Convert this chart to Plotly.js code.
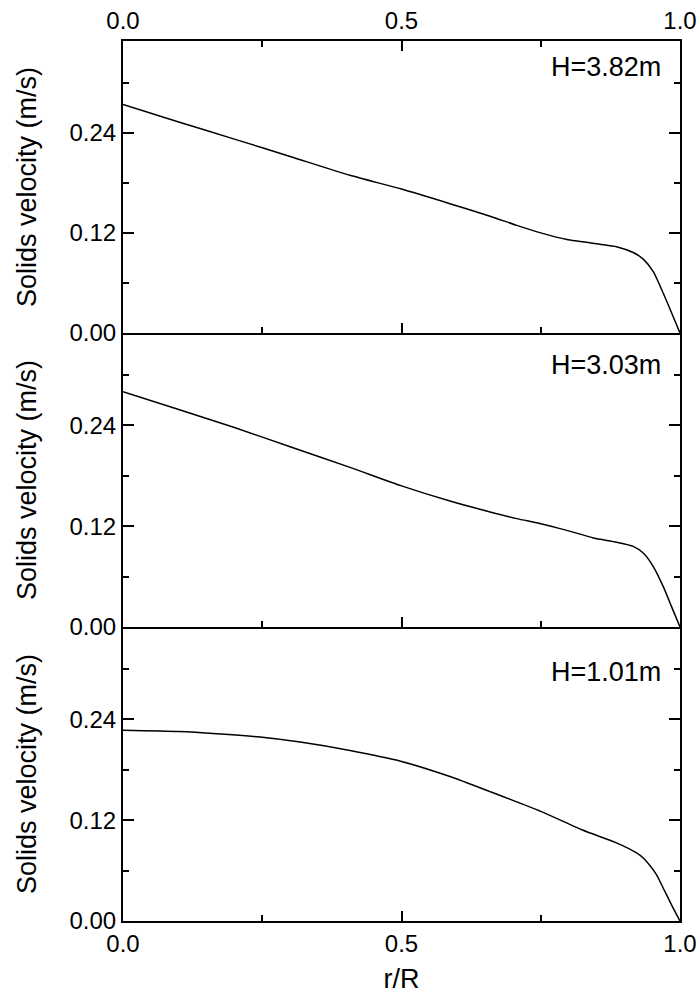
<!DOCTYPE html>
<html>
<head>
<meta charset="utf-8">
<script src="https://cdn.plot.ly/plotly-3.0.1.min.js"></script>
<style>html,body{margin:0;padding:0;background:#fff;}#chart{width:698px;height:997px;}</style>
</head>
<body>
<div id="chart"></div>
<script>
// r/R positions and solids velocities (m/s) for each height
const r1 = [0, 0.1, 0.2, 0.3, 0.4075, 0.5, 0.587, 0.659, 0.707, 0.75, 0.797, 0.856, 0.886, 0.916, 0.934, 0.952, 0.970, 0.985, 1.0];
const v1 = [0.274, 0.253, 0.2324, 0.2116, 0.189, 0.1725, 0.155, 0.140, 0.129, 0.120, 0.112, 0.1065, 0.1035, 0.0965, 0.0885, 0.0735, 0.0476, 0.024, 0];

const r2 = [0, 0.1, 0.2, 0.3, 0.4075, 0.5, 0.587, 0.659, 0.707, 0.75, 0.797, 0.845, 0.886, 0.916, 0.934, 0.952, 0.970, 0.985, 1.0];
const v2 = [0.280, 0.259, 0.2375, 0.2145, 0.190, 0.168, 0.150, 0.137, 0.129, 0.123, 0.115, 0.106, 0.101, 0.096, 0.088, 0.072, 0.048, 0.024, 0];

const r3 = [0, 0.1, 0.168, 0.246, 0.318, 0.4075, 0.5, 0.587, 0.659, 0.75, 0.826, 0.886, 0.922, 0.934, 0.946, 0.958, 0.970, 0.985, 1.0];
const v3 = [0.227, 0.2255, 0.223, 0.219, 0.213, 0.203, 0.190, 0.172, 0.154, 0.1305, 0.108, 0.093, 0.081, 0.075, 0.066, 0.055, 0.039, 0.019, 0];

const labels = ["H=3.82m", "H=3.03m", "H=1.01m"];
const xTickVals = [0, 0.5, 1.0];
const xTickText = ["0.0", "0.5", "1.0"];
const yTickVals = [0, 0.12, 0.24];
const yTickText = ["0.00", "0.12", "0.24"];
const yTitle = "Solids velocity (m/s)";
const xTitle = "r/R";

const FONT = "Arial, 'Liberation Sans', sans-serif";
const lineStyle = {color: "black", width: 1.5, shape: "spline", smoothing: 0.6};

const traces = [
  {x: r1, y: v1, xaxis: "x", yaxis: "y", mode: "lines", line: lineStyle, showlegend: false},
  {x: r2, y: v2, xaxis: "x2", yaxis: "y2", mode: "lines", line: lineStyle, showlegend: false},
  {x: r3, y: v3, xaxis: "x3", yaxis: "y3", mode: "lines", line: lineStyle, showlegend: false}
];

function yAxis(domain, anchor) {
  return {
    domain: domain, anchor: anchor, range: [0, 0.35],
    tickvals: yTickVals, ticktext: yTickText,
    ticks: "inside", ticklen: 11, tickwidth: 2, tickcolor: "black",
    minor: {tickvals: [0.06, 0.18, 0.30], ticks: "inside", ticklen: 6, tickwidth: 2, tickcolor: "black"},
    showline: true, linewidth: 2, linecolor: "black", mirror: "ticks",
    showgrid: false, zeroline: false,
    tickfont: {family: FONT, size: 24, color: "black"},
    title: {text: yTitle, font: {family: FONT, size: 27, color: "black"}, standoff: 25},
    automargin: false
  };
}
function xAxis(anchor, side, showLabels, mirror, title) {
  const ax = {
    domain: [0, 1], anchor: anchor, side: side, range: [0, 1],
    tickvals: xTickVals, ticktext: xTickText, showticklabels: showLabels,
    ticks: "inside", ticklen: 10, tickwidth: 2, tickcolor: "black",
    minor: {tickvals: [0.25, 0.75], ticks: "inside", ticklen: 6, tickwidth: 2, tickcolor: "black"},
    showline: true, linewidth: 2, linecolor: "black", mirror: mirror,
    showgrid: false, zeroline: false,
    tickfont: {family: FONT, size: 24, color: "black"},
    automargin: false
  };
  if (title) ax.title = {text: title, font: {family: FONT, size: 27, color: "black"}, standoff: 13};
  return ax;
}

const H = 880;
const d3 = [0, 294 / H];
const d2 = [294 / H, 588 / H];
const d1 = [588 / H, 1];

const annY = [0.319, 0.312, 0.297];
const annotations = labels.map((t, i) => ({
  text: t, xref: i === 0 ? "x" : "x" + (i + 1), yref: i === 0 ? "y" : "y" + (i + 1),
  x: 0.97, y: annY[i], xanchor: "right", yanchor: "middle", showarrow: false,
  font: {family: FONT, size: 27, color: "black"}
}));

const layout = {
  width: 698, height: 997,
  margin: {l: 123, r: 18, t: 41, b: 76},
  paper_bgcolor: "white", plot_bgcolor: "white",
  showlegend: false,
  xaxis: xAxis("y", "top", true, "ticks", null),
  yaxis: yAxis(d1, "x"),
  xaxis2: xAxis("y2", "bottom", false, false, null),
  yaxis2: yAxis(d2, "x2"),
  xaxis3: xAxis("y3", "bottom", true, false, xTitle),
  yaxis3: yAxis(d3, "x3"),
  annotations: annotations
};

Plotly.newPlot("chart", traces, layout, {displayModeBar: false, staticPlot: true});
</script>
</body>
</html>
